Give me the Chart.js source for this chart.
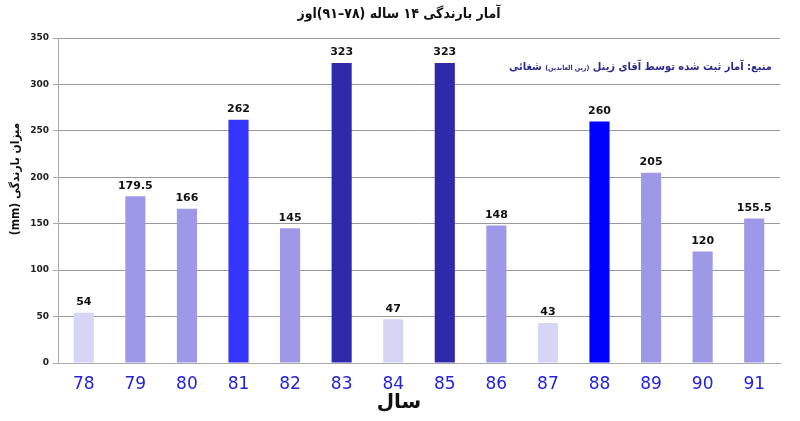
<!DOCTYPE html>
<html><head><meta charset="utf-8">
<script src="https://cdn.jsdelivr.net/npm/chart.js@4"></script>
<style>html,body{margin:0;padding:0;background:#fff}#w{width:800px;height:421px}</style>
</head><body><div id="w"><canvas id="c" width="800" height="421"></canvas></div>
<script>
const years = ['78','79','80','81','82','83','84','85','86','87','88','89','90','91'];
const rainfall = [54,179.5,166,262,145,323,47,323,148,43,260,205,120,155.5];
const barColors = ['#D7D5F5','#9E98E8','#9E98E8','#3535FF','#9E98E8','#2E2AA9','#D7D5F5','#2E2AA9','#9E98E8','#D7D5F5','#0000FF','#9E98E8','#9E98E8','#9E98E8'];
const labelTexts = ['54','179.5','166','262','145','323','47','323','148','43','260','205','120','155.5'];
const titleText = 'آمار بارندگی ۱۴ ساله (۷۸–۹۱)اوز';
const yTitle = 'میزان بارندگی (mm)';
const xTitle = 'سال';
const sourceA = 'منبع: آمار ثبت شده توسط آقای زینل ';
const sourceB = '(زین العابدین)';
const sourceC = ' شغائی';

const FONT = '"DejaVu Sans", sans-serif';
const CFONT = '"DejaVu Sans Condensed", "DejaVu Sans", sans-serif';

const deco = {
  id:'deco',
  afterDatasetsDraw(chart){
    const ctx = chart.ctx;
    const meta = chart.getDatasetMeta(0);
    ctx.save();
    ctx.fillStyle = '#111';
    ctx.font = 'bold 11px ' + FONT;
    ctx.textAlign = 'center';
    ctx.textBaseline = 'bottom';
    meta.data.forEach((b,i)=>{ ctx.fillText(labelTexts[i], b.x, b.y - 5); });
    ctx.restore();
  },
  afterDraw(chart){
    const ctx = chart.ctx;
    ctx.save();
    ctx.direction = 'rtl';
    ctx.fillStyle = '#111';
    ctx.font = 'bold 14px ' + CFONT;
    ctx.textAlign = 'center';
    ctx.textBaseline = 'middle';
    ctx.fillText(titleText, 399, 14);
    // x title
    ctx.font = 'bold 20px ' + FONT;
    ctx.fillText(xTitle, 399, 403);
    // y title
    ctx.save();
    ctx.translate(16, 179);
    ctx.rotate(-Math.PI/2);
    ctx.font = 'bold 12px ' + CFONT;
    ctx.fillText(yTitle, 0, 0);
    ctx.restore();
    // source
    ctx.fillStyle = '#2B2B8C';
    ctx.textAlign = 'right';
    ctx.textBaseline = 'alphabetic';
    let x = 772;
    ctx.font = 'bold 11px ' + CFONT;
    ctx.fillText(sourceA, x, 70);
    x -= ctx.measureText(sourceA).width;
    ctx.font = 'bold 7px ' + CFONT;
    ctx.fillText(sourceB, x, 70);
    x -= ctx.measureText(sourceB).width;
    ctx.font = 'bold 11px ' + CFONT;
    ctx.fillText(sourceC, x, 70);
    ctx.restore();
  }
};

new Chart(document.getElementById('c'), {
  type:'bar',
  data:{ labels: years, datasets:[{ data: rainfall, backgroundColor: barColors, borderWidth:0, barPercentage:0.39, categoryPercentage:1 }]},
  options:{
    responsive:false, animation:false, devicePixelRatio:1,
    layout:{ padding:{ top:38, right:20, left:0, bottom:0 } },
    plugins:{ legend:{display:false}, tooltip:{enabled:false} },
    scales:{
      x:{
        grid:{ display:false, drawTicks:false },
        border:{ display:true, color:'#aaa' },
        ticks:{ color:'#2222DD', font:{ size:17, family: FONT }, padding:11 },
        afterFit(s){ s.height = 58; }
      },
      y:{
        min:0, max:350,
        ticks:{ stepSize:50, color:'#222', font:{ size:9, weight:'bold', family: FONT }, padding:4 },
        grid:{ color:'#9a9a9a', tickLength:5, tickColor:'#aaa' },
        border:{ display:true, color:'#aaa' },
        afterFit(s){ s.width = 58; }
      }
    }
  },
  plugins:[deco]
});
</script>
</body></html>
